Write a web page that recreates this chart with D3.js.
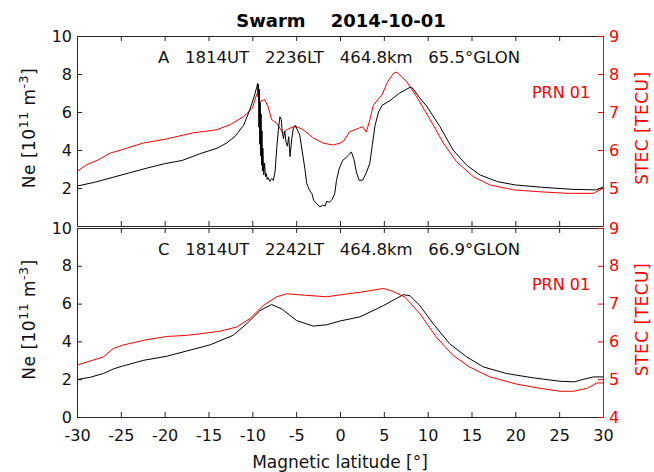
<!DOCTYPE html>
<html>
<head>
<meta charset="utf-8">
<script src="https://cdn.jsdelivr.net/npm/d3@7"></script>
<style>
  body { margin: 0; background: #fff; }
  text { font-family: "DejaVu Sans", sans-serif; }
</style>
</head>
<body>
<div id="chart-container"></div>
<script>
// Swarm A: Ne (left axis) and STEC (right axis) vs magnetic latitude
const neA_lat = [-30, -28, -26, -24, -22, -20, -18, -16, -14, -13, -12, -11, -10.3, -9.8, -9.5, -9.4, -9.35, -9.3, -9.25, -9.2, -9.15, -9.1, -9.05, -9.0, -8.95, -8.9, -8.85, -8.8, -8.7, -8.6, -8.5, -8.4, -8.3, -8.2, -8.0, -7.8, -7.6, -7.4, -7.2, -7.0, -6.85, -6.7, -6.6, -6.45, -6.3, -6.15, -6.0, -5.85, -5.7, -5.5, -5.3, -5.1, -4.9, -4.6, -4.3, -4.0, -3.8, -3.5, -3.2, -3.0, -2.7, -2.3, -2.0, -1.7, -1.5, -1.2, -0.9, -0.6, -0.4, -0.1, 0.3, 0.7, 1.0, 1.3, 1.6, 1.9, 2.2, 2.6, 3.0, 3.4, 3.7, 4.0, 4.4, 4.8, 5.7, 6.8, 8.0, 8.3, 9.0, 9.9, 11.4, 12.9, 14.45, 16, 18, 20, 23, 26.5, 29.3, 30];
const neA = [2.1, 2.3, 2.55, 2.8, 3.05, 3.28, 3.45, 3.8, 4.1, 4.35, 4.7, 5.3, 6.1, 6.8, 7.3, 7.5, 6.9, 7.45, 5.2, 7.2, 4.3, 6.5, 3.7, 5.9, 3.2, 5.0, 2.9, 4.1, 2.7, 3.3, 2.6, 2.75, 2.45, 2.55, 2.35, 2.5, 2.4, 2.9, 4.2, 5.2, 5.75, 5.6, 5.0, 4.6, 5.0, 4.4, 4.2, 4.7, 3.65, 4.6, 5.2, 5.3, 5.1, 4.8, 3.9, 3.0, 2.25, 1.9, 1.7, 1.35, 1.2, 1.0, 1.1, 1.05, 1.3, 1.25, 1.4, 1.7, 2.4, 3.0, 3.45, 3.6, 3.75, 3.9, 3.5, 2.77, 2.4, 2.42, 2.8, 3.3, 4.3, 5.3, 6.0, 6.35, 6.6, 7.0, 7.3, 7.25, 6.8, 6.3, 5.23, 4.0, 3.2, 2.68, 2.33, 2.16, 2.04, 1.93, 1.9, 2.05];
const stecA_lat = [-30, -29, -27.5, -26.2, -25, -22.5, -19.8, -16.8, -14.1, -12.5, -11, -10, -9.5, -9.1, -8.6, -8.2, -7.8, -7.2, -6.5, -6.1, -5.5, -4.9, -4.2, -3.0, -1.9, -0.8, 0, 0.4, 1.1, 2.1, 2.6, 3.0, 3.4, 3.8, 4.3, 4.8, 5.4, 6.1, 6.5, 7.0, 7.6, 8.75, 10.3, 11.8, 13.3, 15.2, 17.1, 19.8, 22.8, 25.9, 28.9, 30];
const stecA = [5.43, 5.6, 5.75, 5.92, 6.0, 6.18, 6.29, 6.45, 6.53, 6.67, 6.88, 7.1, 7.47, 7.27, 7.33, 7.14, 6.8, 6.7, 6.44, 6.53, 6.6, 6.61, 6.53, 6.31, 6.18, 6.13, 6.18, 6.23, 6.48, 6.57, 6.61, 6.47, 6.79, 7.18, 7.32, 7.45, 7.78, 8.02, 8.05, 7.93, 7.8, 7.4, 6.79, 6.18, 5.69, 5.3, 5.08, 4.95, 4.9, 4.86, 4.86, 4.99];

// Swarm C
const neC_lat = [-30, -28.5, -27, -25.8, -24.9, -22.4, -19.8, -17.5, -14.8, -12.2, -10.65, -9.13, -7.8, -6.65, -4.94, -3.05, -1.52, 0, 2.28, 4.94, 7.22, 7.98, 9.12, 10.64, 12.5, 14.45, 16.35, 19, 22.06, 25.1, 26.8, 27.4, 28.9, 30];
const neC = [1.98, 2.1, 2.3, 2.55, 2.68, 3.0, 3.21, 3.49, 3.82, 4.32, 4.93, 5.63, 5.95, 5.72, 5.1, 4.81, 4.88, 5.08, 5.3, 5.89, 6.47, 6.42, 5.89, 4.93, 3.88, 3.18, 2.65, 2.3, 2.07, 1.89, 1.86, 1.95, 2.12, 2.12];
const stecC_lat = [-30, -27, -25.86, -24.8, -22.4, -19.8, -17.5, -16, -13.7, -11.8, -10.3, -8.75, -7.22, -6.1, -4.56, -1.52, 0, 2.28, 4.94, 6.09, 7.41, 9.12, 11.0, 12.9, 14.8, 17.1, 20.15, 22.8, 25.1, 26.6, 28.2, 29.3, 30];
const stecC = [5.37, 5.59, 5.81, 5.9, 6.03, 6.13, 6.16, 6.2, 6.27, 6.38, 6.6, 6.95, 7.18, 7.26, 7.23, 7.18, 7.23, 7.3, 7.4, 7.32, 7.17, 6.73, 6.11, 5.63, 5.32, 5.06, 4.87, 4.76, 4.68, 4.68, 4.76, 4.9, 4.9];

const xTicks = [-30, -25, -20, -15, -10, -5, 0, 5, 10, 15, 20, 25, 30];
const neTicks = [0, 2, 4, 6, 8, 10];
const stecTicks = [4, 5, 6, 7, 8, 9];

const panels = [
    { label: "A   1814UT   2236LT   464.8km   65.5°GLON", lat: neA_lat, ne: neA, slat: stecA_lat, stec: stecA, top: 36, bottom: 226, showZero: false },
    { label: "C   1814UT   2242LT   464.8km   66.9°GLON", lat: neC_lat, ne: neC, slat: stecC_lat, stec: stecC, top: 228, bottom: 417, showZero: true }
];

const width = 654, height = 472;
const left = 77, right = 603;
const axisColor = "#262626";
const red = "#ff0000";

const svg = d3.select("#chart-container")
    .append("svg")
    .attr("width", width)
    .attr("height", height);

const x = d3.scaleLinear().domain([-30, 30]).range([left, right]);

// title
svg.append("text")
    .attr("x", (left + right) / 2 + 1)
    .attr("y", 27)
    .attr("text-anchor", "middle")
    .style("font-size", "18px")
    .style("font-weight", "bold")
    .style("white-space", "pre")
    .text("Swarm    2014-10-01");

panels.forEach((p, i) => {
    const y = d3.scaleLinear().domain([0, 10]).range([p.bottom, p.top]);
    const y2 = d3.scaleLinear().domain([4, 9]).range([p.bottom, p.top]);
    const g = svg.append("g");

    // x ticks (inside, top and bottom)
    const xb = g.append("g")
        .attr("transform", `translate(0,${p.bottom})`)
        .call(d3.axisBottom(x).tickValues(xTicks).tickSizeInner(-5).tickSizeOuter(0).tickFormat(i === 1 ? (d => String(d)) : ""));
    const xt = g.append("g")
        .attr("transform", `translate(0,${p.top})`)
        .call(d3.axisTop(x).tickValues(xTicks).tickSizeInner(-5).tickSizeOuter(0).tickFormat(""));

    // left axis
    const yl = g.append("g")
        .attr("transform", `translate(${left},0)`)
        .call(d3.axisLeft(y).tickValues(p.showZero ? neTicks : neTicks.slice(1)).tickSizeInner(-5).tickSizeOuter(0).tickFormat(d => String(d)));

    // right axis
    const yr = g.append("g")
        .attr("transform", `translate(${right},0)`)
        .call(d3.axisRight(y2).tickValues(p.showZero ? stecTicks : stecTicks.slice(1)).tickSizeInner(-5).tickSizeOuter(0).tickFormat(d => String(d)));

    [xb, xt, yl].forEach(a => {
        a.selectAll("path").attr("stroke", axisColor);
        a.selectAll("line").attr("stroke", axisColor);
        a.selectAll("text").attr("fill", "#111").style("font-size", "16px").style("font-family", "DejaVu Sans");
    });
    xb.selectAll("text").attr("y", 13);
    yl.selectAll("text").attr("x", -5);
    yr.selectAll("path").attr("stroke", red);
    yr.selectAll("line").attr("stroke", red);
    yr.selectAll("text").attr("fill", red).attr("x", 6).style("font-size", "16px").style("font-family", "DejaVu Sans");

    // curves
    const lineNe = d3.line().x(d => x(d[0])).y(d => y(d[1]));
    const lineStec = d3.line().x(d => x(d[0])).y(d => y2(d[1]));

    g.append("path")
        .datum(d3.zip(p.slat, p.stec))
        .attr("d", lineStec)
        .attr("fill", "none")
        .attr("stroke", red)
        .attr("stroke-width", 1);

    g.append("path")
        .datum(d3.zip(p.lat, p.ne))
        .attr("d", lineNe)
        .attr("fill", "none")
        .attr("stroke", "#000")
        .attr("stroke-width", 1);

    // annotations
    g.append("text")
        .attr("x", (left + right) / 2 - 1)
        .attr("y", p.top + 27)
        .attr("text-anchor", "middle")
        .style("font-size", "16.5px")
        .style("white-space", "pre")
        .attr("fill", "#111")
        .text(p.label);

    g.append("text")
        .attr("x", 561)
        .attr("y", p.top + 62)
        .attr("text-anchor", "middle")
        .style("font-size", "16px")
        .attr("fill", red)
        .text("PRN 01");

    // y labels
    const cy = (p.top + p.bottom) / 2;
    const ne = g.append("text")
        .attr("transform", `translate(35,${cy - 3}) rotate(-90)`)
        .attr("text-anchor", "middle")
        .style("font-size", "17px")
        .style("letter-spacing", "0.5px")
        .attr("fill", "#111");
    ne.append("tspan").text("Ne [10");
    ne.append("tspan").attr("dy", -7).style("font-size", "12.5px").text("11");
    ne.append("tspan").attr("dy", 7).text(" m");
    ne.append("tspan").attr("dy", -7).style("font-size", "12.5px").text("-3");
    ne.append("tspan").attr("dy", 7).text("]");

    g.append("text")
        .attr("transform", `translate(648,${cy - 3}) rotate(-90)`)
        .attr("text-anchor", "middle")
        .style("font-size", "17px")
        .style("letter-spacing", "0.5px")
        .attr("fill", red)
        .text("STEC [TECU]");
});

// x label
svg.append("text")
    .attr("x", (left + right) / 2)
    .attr("y", 468)
    .attr("text-anchor", "middle")
    .style("font-size", "17px")
    .attr("fill", "#111")
    .text("Magnetic latitude [°]");
</script>
</body>
</html>
